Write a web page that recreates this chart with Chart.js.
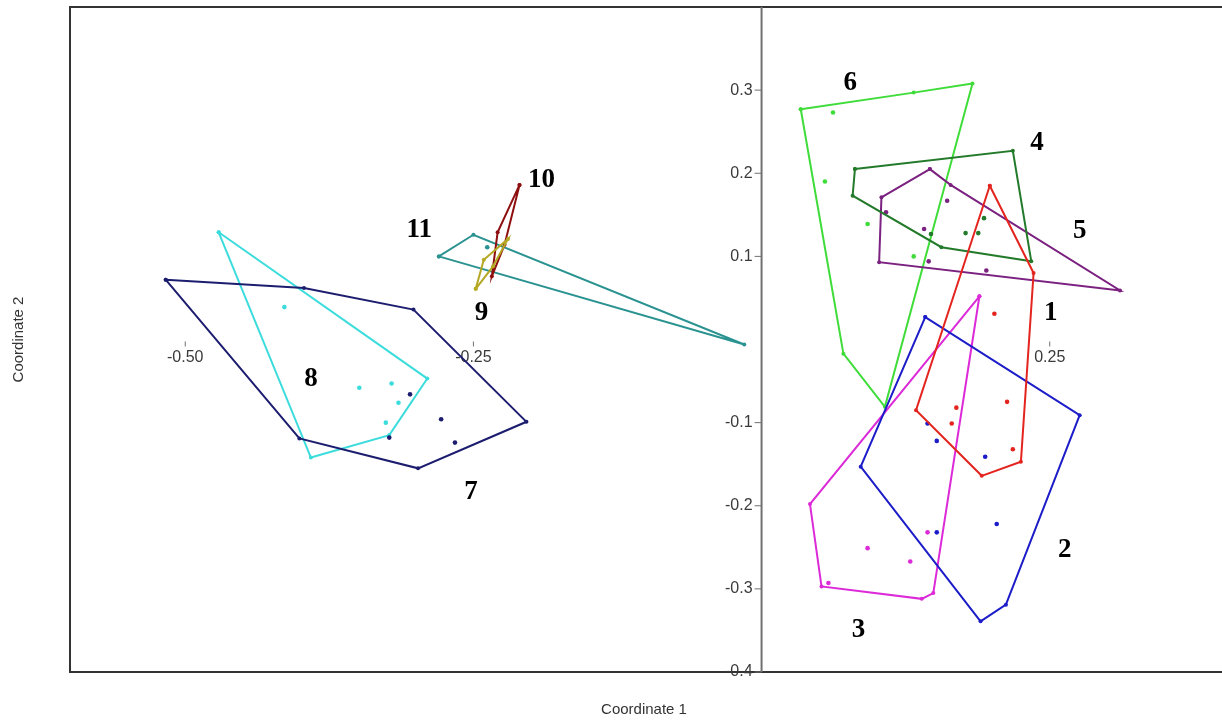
<!DOCTYPE html>
<html>
<head>
<meta charset="utf-8">
<script src="https://cdn.jsdelivr.net/npm/chart.js@4.4.1/dist/chart.umd.min.js"></script>
<style>
    html, body { margin: 0; padding: 0; background: #ffffff; overflow: hidden; }
    #wrap { position: relative; width: 1222px; height: 720px; }
</style>
</head>
<body>
<div id="wrap"><canvas id="chartPcoa"></canvas></div>
<script>
// Convex hull vertices (Coordinate 1, Coordinate 2) per group, in drawing order
var hull1 = [[0.198, 0.185], [0.236, 0.080], [0.225, -0.147], [0.191, -0.164], [0.134, -0.085]];
var hull2 = [[0.142, 0.027], [0.276, -0.091], [0.212, -0.319], [0.190, -0.339], [0.086, -0.153]];
var hull3 = [[0.189, 0.052], [0.149, -0.305], [0.139, -0.312], [0.052, -0.297], [0.042, -0.198]];
var hull4 = [[0.081, 0.205], [0.218, 0.227], [0.234, 0.094], [0.156, 0.111], [0.079, 0.173]];
var hull5 = [[0.146, 0.205], [0.164, 0.186], [0.311, 0.059], [0.102, 0.093], [0.104, 0.171]];
var hull6 = [[0.034, 0.277], [0.132, 0.297], [0.183, 0.308], [0.107, -0.081], [0.071, -0.017]];
var hull7 = [[-0.517, 0.072], [-0.397, 0.062], [-0.302, 0.036], [-0.204, -0.099], [-0.298, -0.155], [-0.401, -0.119]];
var hull8 = [[-0.471, 0.129], [-0.290, -0.047], [-0.323, -0.115], [-0.391, -0.142]];
var hull9 = [[-0.248, 0.061], [-0.241, 0.096], [-0.220, 0.121], [-0.233, 0.088]];
var hull10 = [[-0.210, 0.186], [-0.223, 0.114], [-0.234, 0.076], [-0.229, 0.129]];
var hull11 = [[-0.280, 0.100], [-0.250, 0.126], [-0.015, -0.006]];

// Observations lying inside the hulls
var pts1 = [[0.202, 0.031], [0.213, -0.075], [0.169, -0.082], [0.165, -0.101], [0.218, -0.132]];
var pts2 = [[0.144, -0.101], [0.152, -0.122], [0.194, -0.141], [0.204, -0.222], [0.152, -0.232]];
var pts3 = [[0.144, -0.232], [0.092, -0.251], [0.129, -0.267], [0.058, -0.293]];
var pts4 = [[0.193, 0.146], [0.188, 0.128], [0.177, 0.128], [0.147, 0.127]];
var pts5 = [[0.161, 0.167], [0.108, 0.153], [0.141, 0.133], [0.145, 0.094], [0.195, 0.083]];
var pts6 = [[0.062, 0.273], [0.055, 0.190], [0.092, 0.139], [0.132, 0.100]];
var pts7 = [[-0.305, -0.066], [-0.278, -0.096], [-0.266, -0.124], [-0.323, -0.118]];
var pts8 = [[-0.414, 0.039], [-0.349, -0.058], [-0.321, -0.053], [-0.315, -0.076], [-0.326, -0.100]];
var pts9 = [];
var pts10 = [];
var pts11 = [[-0.238, 0.111]];

var groupNames = ['1', '2', '3', '4', '5', '6', '7', '8', '9', '10', '11'];
var groupColors = ['#e3241f', '#1c1cc8', '#dc2ad8', '#237a2a', '#7b2180', '#3fdc3a',
    '#1d1d70', '#3cdcdc', '#b4a824', '#8e0f0f', '#2a9391'];
// Where each group number is written
var labelX = [0.251, 0.263, 0.084, 0.239, 0.276, 0.077, -0.252, -0.391, -0.243, -0.191, -0.297];
var labelY = [0.032, -0.253, -0.349, 0.236, 0.130, 0.308, -0.183, -0.047, 0.032, 0.192, 0.132];

var xTicks = [-0.5, -0.25, 0.25];
var xTickLabels = ['-0.50', '-0.25', '0.25'];
var yTicks = [0.3, 0.2, 0.1, -0.1, -0.2, -0.3, -0.4];
var yTickLabels = ['0.3', '0.2', '0.1', '-0.1', '-0.2', '-0.3', '-0.4'];

(function () {
    var hulls = [hull1, hull2, hull3, hull4, hull5, hull6, hull7, hull8, hull9, hull10, hull11];
    var points = [pts1, pts2, pts3, pts4, pts5, pts6, pts7, pts8, pts9, pts10, pts11];

    function toXY(list) {
        return list.map(function (p) { return { x: p[0], y: p[1] }; });
    }

    var datasets = [];
    hulls.forEach(function (h, i) {
        var closed = toXY(h);
        closed.push({ x: h[0][0], y: h[0][1] });
        datasets.push({
            label: 'Hull ' + groupNames[i],
            data: closed,
            showLine: true,
            borderColor: groupColors[i],
            backgroundColor: groupColors[i],
            borderWidth: 2,
            pointRadius: 2,
            pointBorderWidth: 0,
            tension: 0,
            fill: false
        });
        datasets.push({
            label: 'Group ' + groupNames[i],
            data: toXY(points[i]),
            showLine: false,
            backgroundColor: groupColors[i],
            borderColor: groupColors[i],
            pointRadius: 2.3,
            pointBorderWidth: 0
        });
    });

    // Frame, centred axes, tick labels, titles and group numbers
    var axesPlugin = {
        id: 'pastAxes',
        beforeDatasetsDraw: function (chart) {
            var ctx = chart.ctx;
            var area = chart.chartArea;
            var xs = chart.scales.x;
            var ys = chart.scales.y;
            var x0 = xs.getPixelForValue(0);
            var y0 = ys.getPixelForValue(0);

            ctx.save();
            ctx.strokeStyle = '#333333';
            ctx.lineWidth = 2;
            ctx.beginPath();
            ctx.moveTo(area.right + 5, area.top);
            ctx.lineTo(area.left, area.top);
            ctx.lineTo(area.left, area.bottom);
            ctx.lineTo(area.right + 5, area.bottom);
            ctx.stroke();

            ctx.strokeStyle = '#707070';
            ctx.beginPath();
            ctx.moveTo(x0, area.top);
            ctx.lineTo(x0, area.bottom);
            ctx.stroke();

            ctx.lineWidth = 1;
            ctx.fillStyle = '#3a3a3a';
            ctx.font = '16px "Liberation Sans", Arial, sans-serif';
            ctx.textAlign = 'right';
            ctx.textBaseline = 'middle';
            yTicks.forEach(function (v, i) {
                var py = ys.getPixelForValue(v);
                ctx.beginPath();
                ctx.moveTo(x0 - 7, py);
                ctx.lineTo(x0, py);
                ctx.stroke();
                ctx.fillText(yTickLabels[i], x0 - 9, py);
            });

            ctx.textAlign = 'center';
            xTicks.forEach(function (v, i) {
                var px = xs.getPixelForValue(v);
                ctx.beginPath();
                ctx.moveTo(px, y0 + 2);
                ctx.lineTo(px, y0 + 7);
                ctx.stroke();
                ctx.fillText(xTickLabels[i], px, y0 + 18);
            });

            ctx.font = '15px "Liberation Sans", Arial, sans-serif';
            ctx.fillStyle = '#333333';
            ctx.fillText('Coordinate 1', (area.left + area.right) / 2, 710);
            ctx.translate(19, (area.top + area.bottom) / 2);
            ctx.rotate(-Math.PI / 2);
            ctx.fillText('Coordinate 2', 0, 0);
            ctx.restore();
        },
        afterDatasetsDraw: function (chart) {
            var ctx = chart.ctx;
            var xs = chart.scales.x;
            var ys = chart.scales.y;
            ctx.save();
            ctx.fillStyle = '#000000';
            ctx.font = 'bold 27px "Liberation Serif", "Times New Roman", serif';
            ctx.textAlign = 'center';
            ctx.textBaseline = 'middle';
            groupNames.forEach(function (name, i) {
                ctx.fillText(name, xs.getPixelForValue(labelX[i]), ys.getPixelForValue(labelY[i]));
            });
            ctx.restore();
        }
    };

    var el = document.getElementById('chartPcoa');
    new Chart(el, {
        type: 'scatter',
        data: { datasets: datasets },
        options: {
            responsive: true,
            maintainAspectRatio: false,
            animation: false,
            layout: { padding: { left: 70, top: 7, right: 1, bottom: 48 } },
            scales: {
                x: { type: 'linear', min: -0.6, max: 0.396, display: false },
                y: { type: 'linear', min: -0.4, max: 0.4, display: false }
            },
            plugins: {
                legend: { display: false },
                tooltip: { enabled: false }
            }
        },
        plugins: [axesPlugin]
    });
})();
</script>
</body>
</html>
